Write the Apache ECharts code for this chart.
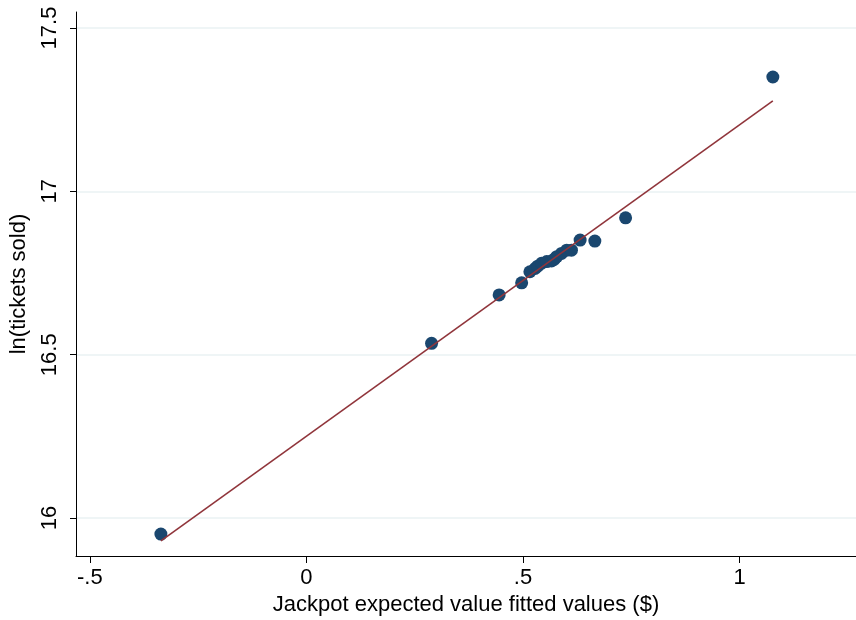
<!DOCTYPE html>
<html>
<head>
<meta charset="utf-8">
<script src="https://cdn.jsdelivr.net/npm/echarts@6/dist/echarts.min.js"></script>
<style>
  html, body { margin: 0; padding: 0; background: #fff; }
  #chart { width: 856px; height: 620px; }
</style>
</head>
<body>
<div id="chart"></div>
<script>
// observed points: jackpot EV fitted value vs ln(tickets sold)
const xVals = [-0.336, 0.289, 0.445, 0.497, 0.516, 0.528, 0.534, 0.543, 0.555, 0.566,
  0.572, 0.578, 0.589, 0.601, 0.612, 0.632, 0.666, 0.737, 1.077]
const yVals = [15.951, 16.535, 16.683, 16.720, 16.754, 16.764, 16.771, 16.780, 16.785, 16.787,
  16.792, 16.800, 16.810, 16.820, 16.820, 16.851, 16.848, 16.919, 17.350]

// fitted line ends
const fitX = [-0.336, 1.077]
const fitY = [15.930, 17.277]

const xTicks = [-0.5, 0, 0.5, 1]
const xTickLabels = ['-.5', '0', '.5', '1']
const yTicks = [16, 16.5, 17, 17.5]
const yTickLabels = ['16', '16.5', '17', '17.5']

const font = "'Liberation Sans', Arial, sans-serif"

const chart = echarts.init(document.getElementById('chart'))

const option = {
  animation: false,
  backgroundColor: '#fff',
  grid: { left: 76, right: 0, top: 12, bottom: 64, containLabel: false, outerBoundsMode: 'none' },
  xAxis: {
    type: 'value',
    min: -0.532,
    max: 1.269,
    name: 'Jackpot expected value fitted values ($)',
    nameLocation: 'middle',
    nameGap: 37,
    nameTextStyle: { fontFamily: font, fontSize: 22, color: '#000' },
    axisLine: { show: true, onZero: false, lineStyle: { color: '#000', width: 1 } },
    axisTick: { show: true, length: 7, customValues: xTicks, lineStyle: { color: '#000' } },
    axisLabel: {
      customValues: xTicks,
      margin: 11,
      fontFamily: font,
      fontSize: 22,
      color: '#000',
      formatter: v => xTickLabels[xTicks.findIndex(t => Math.abs(t - v) < 1e-6)] ?? ''
    },
    splitLine: { show: false }
  },
  yAxis: {
    type: 'value',
    min: 15.884,
    max: 17.549,
    name: 'ln(tickets sold)',
    nameLocation: 'middle',
    nameGap: 46,
    nameRotate: 90,
    nameTextStyle: { fontFamily: font, fontSize: 22, color: '#000' },
    axisLine: { show: true, onZero: false, lineStyle: { color: '#000', width: 1 } },
    axisTick: { show: true, length: 6, customValues: yTicks, lineStyle: { color: '#000' } },
    axisLabel: {
      customValues: yTicks,
      rotate: 90,
      margin: 15,
      fontFamily: font,
      fontSize: 22,
      color: '#000',
      formatter: v => yTickLabels[yTicks.findIndex(t => Math.abs(t - v) < 1e-6)] ?? ''
    },
    splitLine: { show: true, lineStyle: { color: '#eaf2f3', width: 1.5 } }
  },
  series: [
    {
      type: 'scatter',
      data: xVals.map((x, i) => [x, yVals[i]]),
      symbol: 'circle',
      symbolSize: 13,
      itemStyle: { color: '#1a476f', opacity: 1 },
      z: 3
    },
    {
      type: 'line',
      data: fitX.map((x, i) => [x, fitY[i]]),
      showSymbol: false,
      lineStyle: { color: '#90353b', width: 1.6 },
      z: 4
    }
  ]
}

chart.setOption(option)
</script>
</body>
</html>
